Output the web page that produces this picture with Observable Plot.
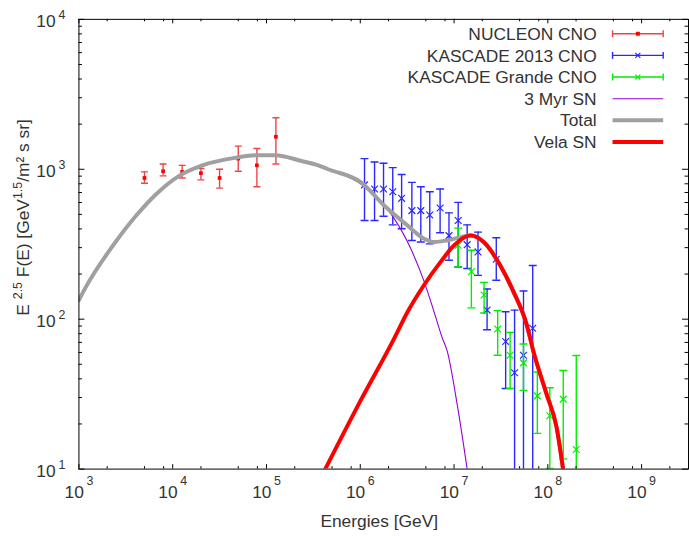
<!DOCTYPE html>
<html><head><meta charset="utf-8">
<script src="https://cdn.jsdelivr.net/npm/d3@7"></script>
<script src="https://cdn.jsdelivr.net/npm/@observablehq/plot@0.6"></script>
<style>html,body{margin:0;padding:0;background:#fff;overflow:hidden;}</style>
</head><body><div id="chart"></div>
<script>
// ---------- data ----------
const nucleonE  = [5.0e3, 7.9e3, 1.26e4, 2.0e4, 3.16e4, 5.0e4, 7.9e4, 1.26e5];
const nucleonF  = [875, 970, 960, 942, 875, 1178, 1062, 1648];
const nucleonLo = [807, 904, 875, 849, 748, 970, 764, 1084];
const nucleonHi = [960, 1084, 1062, 1011, 1000, 1426, 1377, 2208];

const kascadeE  = [1.11e6, 1.42e6, 1.77e6, 2.22e6, 2.76e6, 3.55e6, 4.42e6, 5.51e6, 7.10e6, 8.83e6,
                   1.107e7, 1.38e7, 1.80e7, 2.25e7, 2.82e7, 3.55e7, 4.42e7, 5.50e7, 6.90e7];
const kascadeF  = [787, 738, 738, 708, 640, 530, 530, 495, 552, 361,
                   455, 314, 281, 115, 251, 71, 43.9, 57.5, 87];
const kascadeLo = [455, 455, 486, 426, 401, 335, 327, 318, 377, 247,
                   223, 218, 196, 85, 182, 34.5, 3, 3, 3];
const kascadeHi = [1178, 1117, 1096, 1025, 923, 817, 764, 708, 738, 512,
                   601, 426, 381, 159, 349, 112, 115, 154, 228];

const grandeE  = [1.107e7, 1.53e7, 2.09e7, 2.92e7, 3.96e7, 5.50e7, 7.73e7, 1.05e8, 1.46e8, 2.01e8];
const grandeF  = [311, 207, 145, 86, 57.5, 51.1, 30.8, 22.7, 29.3, 13.5];
const grandeLo = [223, 119, 110, 57.5, 34.5, 33.5, 17.3, 10.1, 11.7, 3];
const grandeHi = [405, 288, 176, 114, 81.7, 68.3, 44.4, 34.9, 45.5, 57.2];

const myrE = [1e3, 1.16e3, 2.31e3, 4.08e3, 6.65e3, 1.17e4, 2.07e4, 4.68e4, 7.6e4, 1.24e5, 2.37e5, 3.56e5, 4.54e5,
              1.02e6, 1.54e6, 2.31e6, 3.46e6, 4.8e6, 6.12e6, 7.5e6, 8.47e6, 1.08e7, 1.38e7];
const myrF = [134, 160, 310, 491, 682, 904, 1062, 1194, 1242, 1239, 1135, 1062, 1000,
              796, 632, 467, 295, 178, 112, 74.8, 61, 27, 10];

const totalE = [1e3, 1.16e3, 2.31e3, 4.08e3, 6.65e3, 1.17e4, 2.07e4, 4.68e4, 7.6e4, 1.24e5, 2.37e5, 3.56e5, 4.54e5,
                1.02e6, 1.81e6, 3.2e6, 4.8e6, 6.12e6, 8.47e6, 1.38e7, 1.50e7, 2.07e7, 3.10e7, 4.31e7, 5.96e7,
                7.01e7, 9.7e7, 1.24e8, 1.46e8];
const totalF = [134, 160, 310, 491, 682, 904, 1062, 1194, 1242, 1239, 1135, 1062, 1000,
                817, 571, 421, 344, 327, 335, 361, 363, 327, 229, 152, 91.6,
                61.1, 31.6, 19, 9.8];

const velaE = [4.23e5, 9.44e5, 2.31e6, 3.2e6, 4.79e6, 7.19e6, 9.98e6, 1.50e7, 2.07e7, 3.10e7, 4.31e7,
               5.96e7, 7.01e7, 9.7e7, 1.24e8, 1.46e8];
const velaF = [10, 26.5, 74.8, 112, 169, 241, 310, 361, 327, 229, 152,
               91.6, 61.1, 31.6, 19, 9.8];

const xDomain = [1e3, 3.162e9];
const yDomain = [10, 1e4];
const xMajor = [1e3, 1e4, 1e5, 1e6, 1e7, 1e8, 1e9];
const xExp   = ["3", "4", "5", "6", "7", "8", "9"];
const xMinor = [2e3, 5e3, 8e3, 2e4, 5e4, 8e4, 2e5, 5e5, 8e5, 2e6, 5e6, 8e6, 2e7, 5e7, 8e7, 2e8, 5e8, 8e8, 2e9];
const yMajor = [10, 100, 1000, 10000];
const yExp   = ["1", "2", "3", "4"];
const yMinor = [20, 30, 40, 50, 60, 70, 80, 90, 200, 300, 400, 500, 600, 700, 800, 900,
                2000, 3000, 4000, 5000, 6000, 7000, 8000, 9000];
const tickBase = "10";

const legendLabels = ["NUCLEON CNO", "KASCADE 2013 CNO", "KASCADE Grande CNO", "3 Myr SN", "Total", "Vela SN"];
const xTitle = "Energies [GeV]";

// ---------- tables ----------
const zipErr = (E, F, lo, hi) => E.map((e, i) => ({E: e, F: F[i], lo: lo[i], hi: hi[i]}));
const nucleon = zipErr(nucleonE, nucleonF, nucleonLo, nucleonHi);
const kascade = zipErr(kascadeE, kascadeF, kascadeLo, kascadeHi);
const grande = zipErr(grandeE, grandeF, grandeLo, grandeHi);
const myr = myrE.map((e, i) => ({E: e, F: myrF[i]}));
const total = totalE.map((e, i) => ({E: e, F: totalF[i]}));
const vela = velaE.map((e, i) => ({E: e, F: velaF[i]}));

const FONT = "'Liberation Sans', Arial, Helvetica, sans-serif";
const W = 694, H = 536, ML = 79, MR = 1, MT = 19, MB = 64;
const innerW = W - ML - MR, innerH = H - MT - MB;

const RED = "#ff0000", RED_BAR = "#ee4444", BLUE = "#2828ff", GREEN = "#00ee00", PURPLE = "#9400d3", GRAY = "#a0a0a0";
const TXT = "#333333";

const cap = (hw) => ({draw(ctx) { ctx.moveTo(-hw, 0); ctx.lineTo(hw, 0); }});

function errMarks(data, color, capHW, marker) {
  return [
    Plot.ruleX(data, {x: "E", y1: "lo", y2: "hi", stroke: color, strokeWidth: 1.4, clip: true}),
    Plot.dot(data, {x: "E", y: "lo", symbol: cap(capHW), r: 3, stroke: color, strokeWidth: 1.4, fill: "none", clip: true}),
    Plot.dot(data, {x: "E", y: "hi", symbol: cap(capHW), r: 3, stroke: color, strokeWidth: 1.4, fill: "none", clip: true}),
    marker
  ];
}

const plot = Plot.plot({
  width: W, height: H,
  marginLeft: ML, marginRight: MR, marginTop: MT, marginBottom: MB,
  style: {fontFamily: FONT, background: "white", overflow: "visible"},
  x: {type: "log", domain: xDomain, axis: null},
  y: {type: "log", domain: yDomain, axis: null},
  marks: [
    // error-bar data
    ...errMarks(nucleon, RED_BAR, 3.5,
      Plot.dot(nucleon, {x: "E", y: "F", symbol: "square", r: 2.1, fill: RED, stroke: "none"})),
    ...errMarks(kascade, BLUE, 4,
      Plot.dot(kascade, {x: "E", y: "F", symbol: "times", r: 3.2, stroke: BLUE, strokeWidth: 1.2, clip: true})),
    ...errMarks(grande, GREEN, 4,
      Plot.dot(grande, {x: "E", y: "F", symbol: "times", r: 3.2, stroke: GREEN, strokeWidth: 1.2, clip: true})),
    // model curves
    Plot.line(myr, {x: "E", y: "F", stroke: PURPLE, strokeWidth: 1.1, curve: "monotone-x", clip: true}),
    Plot.line(total, {x: "E", y: "F", stroke: GRAY, strokeWidth: 4, curve: "monotone-x", clip: true}),
    Plot.line(vela, {x: "E", y: "F", stroke: RED, strokeWidth: 4, curve: "monotone-x", clip: true}),
    // frame + inward ticks on all sides
    Plot.frame({stroke: "black", strokeWidth: 1}),
    Plot.tickX(xMajor, {x: d => d, insetTop: innerH - 4.5, stroke: "black"}),
    Plot.tickX(xMajor, {x: d => d, insetBottom: innerH - 4.5, stroke: "black"}),
    Plot.tickX(xMinor, {x: d => d, insetTop: innerH - 2.5, stroke: "black"}),
    Plot.tickX(xMinor, {x: d => d, insetBottom: innerH - 2.5, stroke: "black"}),
    Plot.tickY(yMajor, {y: d => d, insetRight: innerW - 6, stroke: "black"}),
    Plot.tickY(yMajor, {y: d => d, insetLeft: innerW - 6, stroke: "black"}),
    Plot.tickY(yMinor, {y: d => d, insetRight: innerW - 3.5, stroke: "black"}),
    Plot.tickY(yMinor, {y: d => d, insetLeft: innerW - 3.5, stroke: "black"}),
    // tick labels: 10^n
    Plot.text(xMajor, {x: d => d, text: () => tickBase, frameAnchor: "bottom", textAnchor: "end",
      lineAnchor: "bottom", dx: 5, dy: 29, fontSize: 17.5, fill: TXT}),
    Plot.text(xMajor, {x: d => d, text: (d, i) => xExp[i], frameAnchor: "bottom", textAnchor: "start",
      lineAnchor: "bottom", dx: 7.5, dy: 16.5, fontSize: 12.5, fill: TXT}),
    Plot.text(yMajor, {y: d => d, text: () => tickBase, frameAnchor: "left", textAnchor: "end",
      lineAnchor: "bottom", dx: -23.5, dy: 8, fontSize: 17.5, fill: TXT}),
    Plot.text(yMajor, {y: d => d, text: (d, i) => yExp[i], frameAnchor: "left", textAnchor: "start",
      lineAnchor: "bottom", dx: -20.5, dy: -0.5, fontSize: 12.5, fill: TXT})
  ]
});
document.getElementById("chart").appendChild(plot);

// ---------- titles & legend overlay ----------
const svg = d3.select(plot);
svg.append("text").attr("x", 382).attr("y", 531).attr("text-anchor", "middle")
  .attr("font-family", FONT).attr("font-size", 17.5).attr("fill", TXT).text(xTitle);

const yt = svg.append("text").attr("transform", "translate(29,219) rotate(-90)").attr("text-anchor", "middle")
  .attr("font-family", FONT).attr("font-size", 17.5).attr("fill", TXT);
yt.append("tspan").text("E ");
yt.append("tspan").attr("dy", -7).attr("font-size", 12.5).text("2.5");
yt.append("tspan").attr("dy", 7).text(" F(E) [GeV");
yt.append("tspan").attr("dy", -7).attr("font-size", 12.5).text("1.5");
yt.append("tspan").attr("dy", 7).text("/m\u00b2 s sr]");

const lg = svg.append("g").attr("font-family", FONT).attr("font-size", 17.5).attr("fill", TXT);
const sx0 = 617, sx1 = 668, smid = 642.5;
const styles = [
  {c: RED_BAR, w: 1.4, bar: true, mk: "sq"},
  {c: BLUE, w: 1.4, bar: true, mk: "x"},
  {c: GREEN, w: 1.4, bar: true, mk: "x"},
  {c: PURPLE, w: 1.1},
  {c: GRAY, w: 4},
  {c: RED, w: 4}
];
legendLabels.forEach((lab, i) => {
  const cy = 34 + i * 21.8;
  lg.append("text").attr("x", 601).attr("y", cy + 6.2).attr("text-anchor", "end").text(lab);
  const s = styles[i];
  lg.append("line").attr("x1", sx0).attr("x2", sx1).attr("y1", cy).attr("y2", cy)
    .attr("stroke", s.c).attr("stroke-width", s.w);
  if (s.bar) {
    [sx0, sx1].forEach(x => lg.append("line").attr("x1", x).attr("x2", x).attr("y1", cy - 3.5).attr("y2", cy + 3.5)
      .attr("stroke", s.c).attr("stroke-width", s.w));
    if (s.mk === "sq") lg.append("rect").attr("x", smid - 2).attr("y", cy - 2).attr("width", 4).attr("height", 4).attr("fill", RED);
    else lg.append("path").attr("d", `M${smid-2.5},${cy-2.5}L${smid+2.5},${cy+2.5}M${smid-2.5},${cy+2.5}L${smid+2.5},${cy-2.5}`)
      .attr("stroke", s.c).attr("stroke-width", 1.2);
  }
});
</script></body></html>
